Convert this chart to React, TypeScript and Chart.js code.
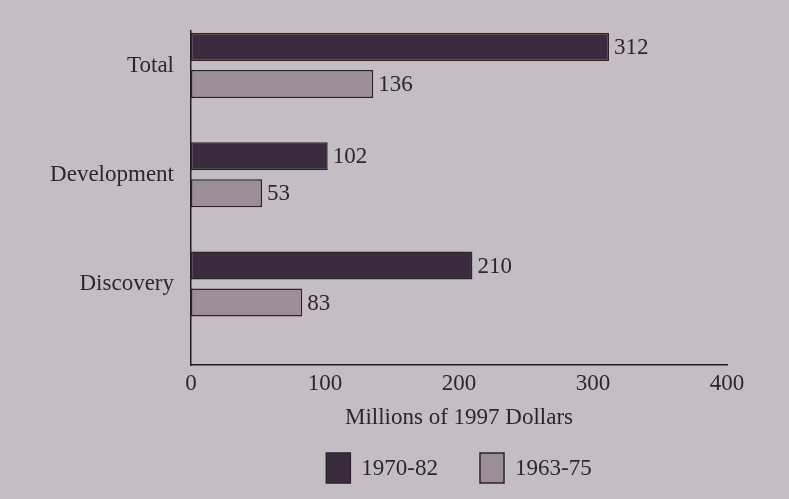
import { useEffect, useRef } from 'react';
import { Chart, registerables } from 'chart.js';

Chart.register(...registerables);

const categories = ['Total', 'Development', 'Discovery'];
const series1970_82 = [312, 102, 210];
const series1963_75 = [136, 53, 83];
const seriesNames = ['1970-82', '1963-75'];
const xTicks = [0, 100, 200, 300, 400];
const xTitle = 'Millions of 1997 Dollars';

const BG = '#c5bdc4';
const DARK = '#3b2b3e';
const LIGHT = '#9b8e98';
const EDGE = '#2a2429';
const TEXT = '#2b282c';
const FONT_FAMILY = "'Liberation Serif', 'Times New Roman', serif";
const FONT_SIZE = 23;

export default function App() {
  const ref = useRef<HTMLCanvasElement>(null);

  useEffect(() => {
    document.body.style.margin = '0';
    document.body.style.background = BG;
    const canvas = ref.current!;
    const colors = [DARK, LIGHT];
    const seriesValues = [series1970_82, series1963_75];

    const datasets = seriesNames.map((name, s) => ({
      label: name,
      data: categories.map((_, i) => ({ x: seriesValues[s][i], y: i })),
      backgroundColor: colors[s],
      borderColor: EDGE,
      borderWidth: 1.5,
      borderSkipped: false,
      categoryPercentage: 0.677,
      barPercentage: 0.757,
    }));

    const valueLabels = {
      id: 'valueLabels',
      afterDatasetsDraw(chart: any) {
        const c = chart.ctx;
        c.save();
        c.font = `${FONT_SIZE}px ${FONT_FAMILY}`;
        c.fillStyle = TEXT;
        c.textAlign = 'left';
        c.textBaseline = 'middle';
        chart.data.datasets.forEach((_: any, di: number) => {
          const meta = chart.getDatasetMeta(di);
          meta.data.forEach((el: any, i: number) => {
            c.fillText(String(seriesValues[di][i]), el.x + 5, el.y + 1);
          });
        });
        c.restore();
      },
    };

    const bottomLegend = {
      id: 'bottomLegend',
      afterDraw(chart: any) {
        const c = chart.ctx;
        const area = chart.chartArea;
        c.save();
        c.font = `${FONT_SIZE}px ${FONT_FAMILY}`;
        const boxW = 24;
        const boxH = 30;
        const textGap = 11;
        const itemGap = 42;
        const widths = seriesNames.map((n) => boxW + textGap + c.measureText(n).width);
        const total = widths.reduce((a, b) => a + b, 0) + itemGap * (seriesNames.length - 1);
        let x = (area.left + area.right) / 2 - total / 2;
        const top = 453;
        seriesNames.forEach((n, i) => {
          c.fillStyle = colors[i];
          c.fillRect(x, top, boxW, boxH);
          c.lineWidth = 1.5;
          c.strokeStyle = EDGE;
          c.strokeRect(x, top, boxW, boxH);
          c.fillStyle = TEXT;
          c.textAlign = 'left';
          c.textBaseline = 'middle';
          c.fillText(n, x + boxW + textGap, top + boxH / 2 + 1);
          x += widths[i] + itemGap;
        });
        c.restore();
      },
    };

    const font = { family: FONT_FAMILY, size: FONT_SIZE };

    const chart = new Chart(canvas, {
      type: 'bar',
      data: { datasets } as any,
      plugins: [valueLabels, bottomLegend],
      options: {
        indexAxis: 'y',
        animation: false,
        responsive: false,
        layout: { padding: { top: 31, right: 62, left: 0, bottom: 0 } },
        plugins: {
          legend: { display: false },
          tooltip: { enabled: false },
        },
        scales: {
          x: {
            type: 'linear',
            bounds: 'data',
            min: xTicks[0],
            max: xTicks[xTicks.length - 1],
            afterBuildTicks: (s: any) => {
              s.ticks = xTicks.map((v) => ({ value: v }));
            },
            afterFit: (s: any) => {
              s.height = 134;
            },
            grid: { display: false, drawTicks: false },
            border: { display: true, color: '#221e22', width: 1.5 },
            ticks: { color: TEXT, font, padding: 5, maxRotation: 0 },
            title: {
              display: true,
              text: xTitle,
              color: TEXT,
              font,
              padding: { top: 0, bottom: 67 },
            },
          },
          y: {
            type: 'linear',
            bounds: 'data',
            offset: false,
            reverse: true,
            min: -0.316,
            max: 2.741,
            afterBuildTicks: (s: any) => {
              s.ticks = categories.map((_, i) => ({ value: i }));
            },
            afterFit: (s: any) => {
              s.width = 191;
            },
            grid: { display: false, drawTicks: false, offset: false },
            border: { display: true, color: '#221e22', width: 1.5 },
            ticks: {
              color: TEXT,
              font,
              padding: 17,
              callback: (v: any) => categories[v] ?? '',
            },
          },
        },
      } as any,
    });

    return () => chart.destroy();
  }, []);

  return (
    <canvas
      ref={ref}
      width={789}
      height={499}
      style={{ display: 'block', width: 789, height: 499 }}
    />
  );
}
